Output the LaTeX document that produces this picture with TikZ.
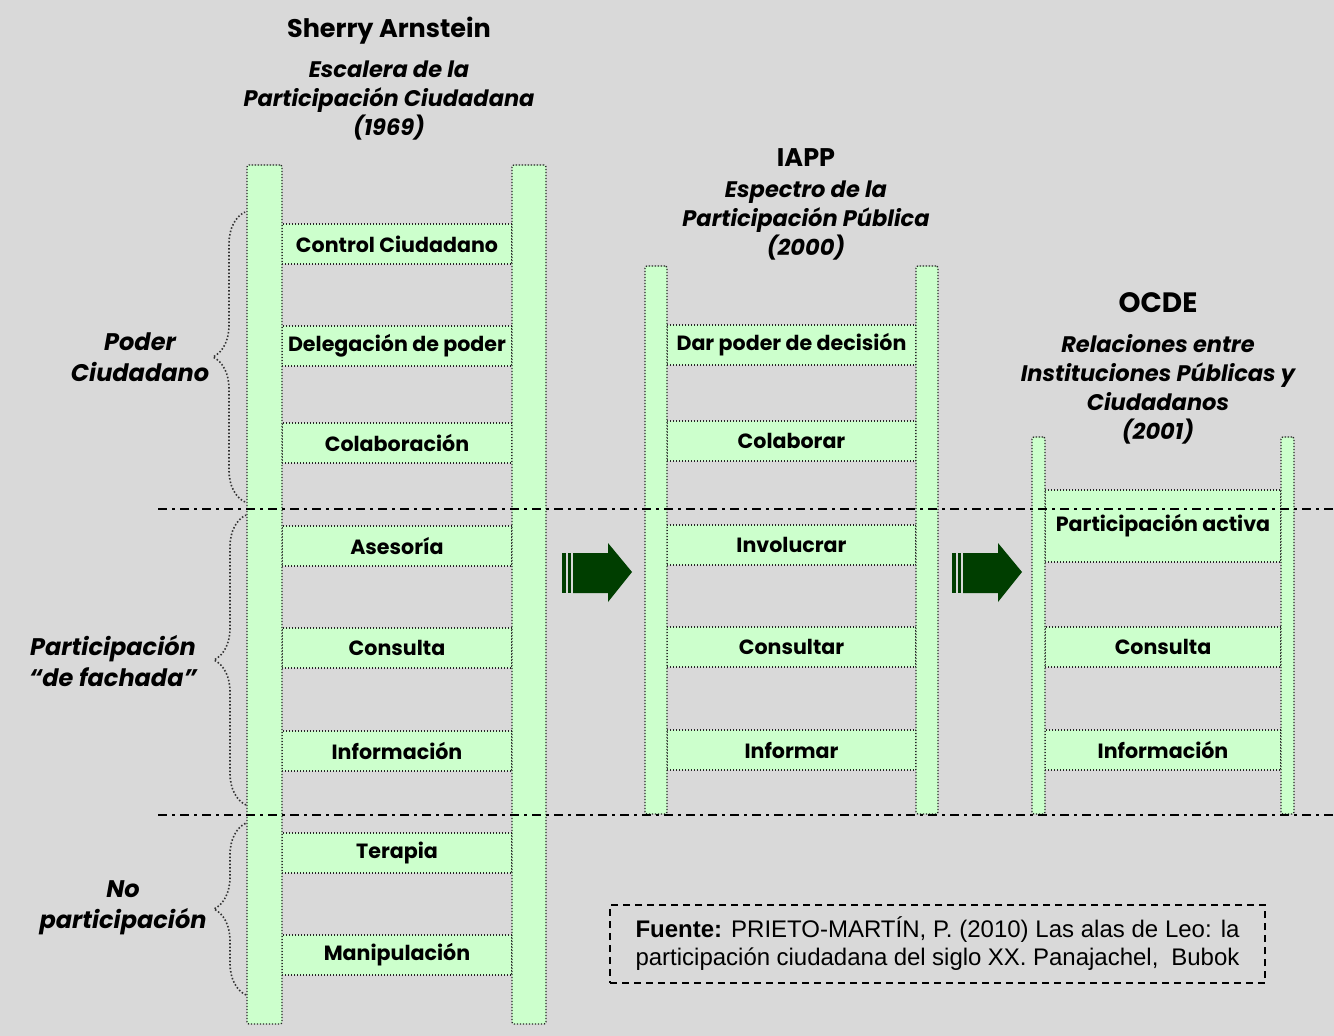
\documentclass[tikz,border=0pt]{standalone}
\usepackage{fontspec}
\setmainfont{Poppins}
\newfontfamily\srcfont{Liberation Sans}
\usetikzlibrary{decorations.pathreplacing}
\definecolor{bgc}{RGB}{217,217,217}
\definecolor{lg}{RGB}{204,255,204}
\definecolor{ag}{RGB}{0,62,0}
\newcommand\rungfont{\fontsize{20.6}{24}\selectfont\bfseries}
\newcommand\titfont{\fontsize{25.5}{30}\selectfont\bfseries}
\newcommand\subfont{\fontsize{22.5}{29}\selectfont\bfseries\itshape}
\newcommand\sidefont{\fontsize{24}{31}\selectfont\bfseries\itshape}
\begin{document}
\begin{tikzpicture}[x=1pt,y=-1pt,
  dotb/.style={draw=black!85, line width=1.3pt, dash pattern=on 1.3pt off 1.7pt},
  railbox/.style={dotb, fill=lg, rounded corners=2pt, inner sep=0pt, outer sep=0pt},
  rung/.style={dotb, fill=lg, inner sep=0pt, outer sep=0pt, minimum height=40pt, font=\rungfont},
  rungA/.style={rung, minimum width=230pt},
  rungB/.style={rung, minimum width=249pt},
  rungC/.style={rung, minimum width=236pt},
  titlebox/.style={font=\titfont, inner sep=0pt},
  subbox/.style={font=\subfont, align=center, inner sep=0pt},
  sidebox/.style={font=\sidefont, align=center, inner sep=0pt},
  levelline/.style={black, line width=2.2pt, dash pattern=on 9pt off 5pt on 3pt off 5pt},
  bracebox/.style={draw=black!80, line width=1.6pt, dash pattern=on 1.5pt off 2pt,
     decorate, decoration={brace, amplitude=32pt}},
  arrowfill/.style={fill=ag, draw=none}
]
\fill[bgc] (0,0) rectangle (1334,1036);
\useasboundingbox (0,0) rectangle (1334,1036);

% ---------- Ladder 1 (Arnstein) ----------
\node[rungA] (a1) at (397,244) {Control Ciudadano};
\node[rungA] (a2) at (397,346) {Delegación de poder};
\node[rungA] (a3) at (397,443) {Colaboración};
\node[rungA] (a4) at (397,546) {Asesoría};
\node[rungA] (a5) at (397,648) {Consulta};
\node[rungA] (a6) at (397,751) {Información};
\node[rungA] (a7) at (397,853) {Terapia};
\node[rungA] (a8) at (397,955) {Manipulación};
\node[railbox, minimum width=35pt, minimum height=859pt] (a-l) at (264.5,594.5) {};
\node[railbox, minimum width=34pt, minimum height=859pt] (a-r) at (529,594.5) {};

% ---------- Ladder 2 (IAPP) ----------
\node[rungB] (b1) at (791.5,345) {Dar poder de decisión};
\node[rungB] (b2) at (791.5,441) {Colaborar};
\node[rungB] (b3) at (791.5,545) {Involucrar};
\node[rungB] (b4) at (791.5,647) {Consultar};
\node[rungB] (b5) at (791.5,750) {Informar};
\node[railbox, minimum width=22pt, minimum height=548pt] (b-l) at (656,540) {};
\node[railbox, minimum width=22pt, minimum height=548pt] (b-r) at (927,540) {};

% ---------- Ladder 3 (OCDE) ----------
\node[rungC, minimum height=72pt] (c1) at (1163,526) {Participación activa};
\node[rungC] (c2) at (1163,647) {Consulta};
\node[rungC] (c3) at (1163,750) {Información};
\node[railbox, minimum width=13pt, minimum height=377pt] (c-l) at (1038.5,625.5) {};
\node[railbox, minimum width=13pt, minimum height=377pt] (c-r) at (1287.5,625.5) {};

% ---------- Titles ----------
\node[titlebox] (t1) at (389,31) {Sherry Arnstein};
\node[subbox] (s1) at (389,101) {Escalera de la\\Participación Ciudadana\\(1969)};
\node[titlebox] (t2) at (806,158) {IAPP};
\node[subbox] (s2) at (806,221) {Espectro de la\\Participación Pública\\(2000)};
\node[titlebox, font=\fontsize{28}{32}\selectfont\bfseries] (t3) at (1158,303) {OCDE};
\node[subbox] (s3) at (1158,389) {Relaciones entre\\Instituciones Públicas y\\Ciudadanos\\(2001)};

% ---------- Level lines ----------
\coordinate (l1a) at (158,509); \coordinate (l1b) at (1334,509);
\coordinate (l2a) at (158,815); \coordinate (l2b) at (1334,815);
\draw[levelline] (l1a) -- (l1b);
\draw[levelline] (l2a) -- (l2b);

% ---------- Braces and side labels ----------
\coordinate (br1a) at (245,502); \coordinate (br1b) at (245,212);
\coordinate (br2a) at (246,805); \coordinate (br2b) at (246,515);
\coordinate (br3a) at (246,995); \coordinate (br3b) at (246,823);
\draw[bracebox] (br1a) -- (br1b);
\draw[bracebox] (br2a) -- (br2b);
\draw[bracebox] (br3a) -- (br3b);
\node[sidebox] (p1) at (140,357) {Poder\\Ciudadano};
\node[sidebox] (p2) at (113,661) {Participación\\“de fachada”};
\node[sidebox] (p3) at (123,908) {No\\participación};

% ---------- Block arrows ----------
\foreach \dx/\nm in {0/one,390/two}{
  \begin{scope}[xshift=\dx]
    \fill[arrowfill] (562,553) rectangle (566,593);
    \fill[arrowfill] (568,553) rectangle (571,593);
    \fill[arrowfill] (573,553) -- (608,553) -- (608,543) -- (632,572) -- (608,602) -- (608,593) -- (573,593) -- cycle;
  \end{scope}
}

% ---------- Source box ----------
\node[draw=black, line width=1.5pt, dash pattern=on 7pt off 5pt, minimum width=655pt, minimum height=78pt,
      inner sep=0pt, align=left, font=\srcfont\fontsize{24}{28}\selectfont] (src) at (937.5,944)
  {\makebox[604pt][s]{\textbf{Fuente:} PRIETO-MARTÍN, P. (2010) Las alas de Leo: la}\\
   \makebox[604pt][s]{participación ciudadana del siglo XX. Panajachel, \ Bubok}};
\end{tikzpicture}
\end{document}
